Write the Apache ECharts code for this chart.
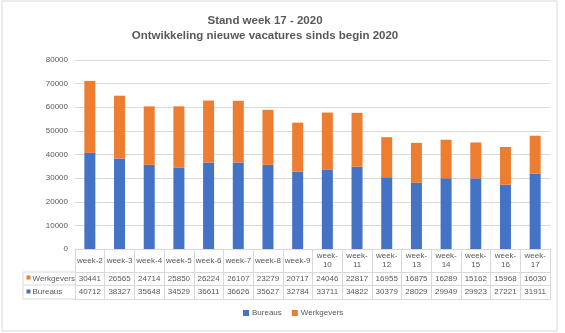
<!DOCTYPE html>
<html><head><meta charset="utf-8">
<script src="https://cdn.jsdelivr.net/npm/echarts@6/dist/echarts.min.js"></script>
<style>html,body{margin:0;padding:0;background:#fff}#c{width:565px;height:333px}</style>
</head><body><div id="c"></div>
<script>
const weeks = ['week-2','week-3','week-4','week-5','week-6','week-7','week-8','week-9','week-10','week-11','week-12','week-13','week-14','week-15','week-16','week-17'];
const werkgevers = [30441,26565,24714,25850,26224,26107,23279,20717,24046,22817,16955,16875,16289,15162,15968,16030];
const bureaus = [40712,38327,35648,34529,36611,36626,35627,32784,33711,34822,30379,28029,29949,29923,27221,31911];
const titleLines = ['Stand week 17 - 2020','Ontwikkeling nieuwe vacatures sinds begin 2020'];
const seriesNames = ['Bureaus','Werkgevers'];
const colors = {Bureaus:'#4472C4', Werkgevers:'#ED7D31'};

const txt = '#595959', line = '#d9d9d9', ff = '"Liberation Sans", Arial, sans-serif';
const chart = echarts.init(document.getElementById('c'));
const gridL = 75, gridR = 550;
const baseX = {type:'category', position:'bottom', gridIndex:0,
  axisLine:{show:true, lineStyle:{color:line}}, splitLine:{show:false}};
chart.setOption({
  animation:false,
  textStyle:{fontFamily:ff},
  title:{text:titleLines.join('\n'), left:260, top:8, textAlign:'center',
    textStyle:{fontSize:11.5, fontWeight:'bold', color:txt, lineHeight:15, fontFamily:ff}},
  legend:{data:seriesNames, bottom:11, left:238, itemWidth:6, itemHeight:6, icon:'rect', itemGap:10,
    textStyle:{fontSize:8, color:txt, padding:[0,0,0,-2]}},
  grid:{left:gridL, right:565-gridR, top:60, bottom:84},
  yAxis:{type:'value', min:0, max:80000, interval:10000,
    axisLine:{show:false}, axisTick:{show:false},
    axisLabel:{fontSize:8, color:txt, margin:7, formatter:v => String(v)},
    splitLine:{lineStyle:{color:line}}},
  xAxis:[
    Object.assign({}, baseX, {data:weeks,
      axisTick:{show:true, interval:0, length:23, lineStyle:{color:line}},
      axisLabel:{interval:0, fontSize:8, color:txt, margin:11.5, verticalAlign:'middle', lineHeight:9,
        formatter:v => v.length > 6 ? v.replace('-', '-\n') : v}}),
    Object.assign({}, baseX, {data:werkgevers.map(String), offset:23,
      axisTick:{show:true, interval:0, length:13, lineStyle:{color:line}},
      axisLabel:{interval:0, fontSize:8, color:txt, margin:6.5, verticalAlign:'middle'}}),
    Object.assign({}, baseX, {data:bureaus.map(String), offset:36,
      axisTick:{show:true, interval:0, length:14, lineStyle:{color:line}},
      axisLabel:{interval:0, fontSize:8, color:txt, margin:7, verticalAlign:'middle'}}),
    Object.assign({}, baseX, {data:weeks, offset:50, axisTick:{show:false}, axisLabel:{show:false}})
  ],
  series:[
    {name:'Bureaus', type:'bar', stack:'t', data:bureaus, barWidth:11, itemStyle:{color:colors.Bureaus}},
    {name:'Werkgevers', type:'bar', stack:'t', data:werkgevers, barWidth:11, itemStyle:{color:colors.Werkgevers}}
  ],
  graphic:[
    {type:'rect', shape:{x:2, y:1, width:555, height:330}, style:{fill:'none', stroke:'#d9d9d9', lineWidth:1}, silent:true},
    {type:'line', shape:{x1:23, y1:272, x2:gridL, y2:272}, style:{stroke:line}},
    {type:'line', shape:{x1:23, y1:285, x2:gridL, y2:285}, style:{stroke:line}},
    {type:'line', shape:{x1:23, y1:299, x2:gridL, y2:299}, style:{stroke:line}},
    {type:'line', shape:{x1:23, y1:272, x2:23, y2:299}, style:{stroke:line}},
    {type:'rect', shape:{x:26.5, y:275.5, width:4, height:4}, style:{fill:colors.Werkgevers}},
    {type:'text', style:{x:32.5, y:278.5, text:seriesNames[1], fontSize:8, fill:txt, fontFamily:ff, verticalAlign:'middle'}},
    {type:'rect', shape:{x:26.5, y:289.5, width:4, height:4}, style:{fill:colors.Bureaus}},
    {type:'text', style:{x:32.5, y:292, text:seriesNames[0], fontSize:8, fill:txt, fontFamily:ff, verticalAlign:'middle'}}
  ]
});
</script></body></html>
